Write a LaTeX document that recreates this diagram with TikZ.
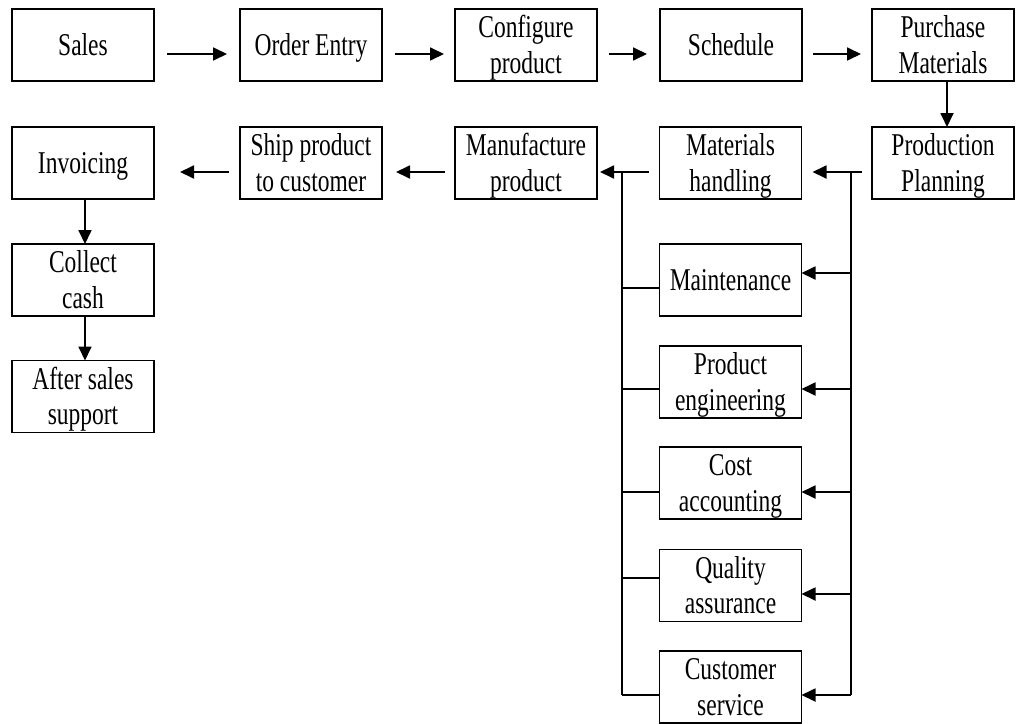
\documentclass[tikz,border=0pt]{standalone}
\usepackage{fontspec}
\setmainfont{Liberation Serif}
\usetikzlibrary{arrows.meta,calc}

% two-line labels, set tall and narrow, sitting slightly low in the box
\newcommand{\lbl}[1]{\raisebox{-3.5pt}[\height][\depth]{\scalebox{1}[1.35]{\fontsize{23.5}{26}\selectfont\begin{tabular}{@{}c@{}}#1\end{tabular}}}}

\tikzset{
  box/.style={draw=black, line width=1.8pt, minimum width=142pt, minimum height=72pt,
              inner sep=0pt, outer sep=0pt, fill=white},
  link/.style={line width=1.8pt},
  arr/.style={link, -{Triangle[length=14pt,width=13pt]}},
}

\begin{document}
\begin{tikzpicture}[x=1pt,y=-1pt]
  \useasboundingbox (0,0) rectangle (1017,723);
  \fill[white] (0,0) rectangle (1017,723);

  % top row
  \node[box] (sales)    at (83,45)    {\lbl{Sales}};
  \node[box] (order)    at (311,45)   {\lbl{Order Entry}};
  \node[box] (config)   at (526,45)   {\lbl{Configure\\product}};
  \node[box] (sched)    at (731,45)   {\lbl{Schedule}};
  \node[box] (purchase) at (943,45)   {\lbl{Purchase\\Materials}};

  % second row
  \node[box] (invoice)  at (83,163)   {\lbl{Invoicing}};
  \node[box] (ship)     at (311,163)  {\lbl{Ship product\\to customer}};
  \node[box] (manuf)    at (526,163)  {\lbl{Manufacture\\product}};
  \node[box] (mathand)  at (730.5,163){\lbl{Materials\\handling}};
  \node[box] (plan)     at (943,163)  {\lbl{Production\\Planning}};

  % after-sale column
  \node[box] (collect)  at (83,280)   {\lbl{Collect\\cash}};
  \node[box] (support)  at (83,396.5) {\lbl{After sales\\support}};

  % support functions column
  \node[box] (maint)    at (730.5,280)   {\lbl{Maintenance}};
  \node[box] (eng)      at (730.5,382)   {\lbl{Product\\engineering}};
  \node[box] (cost)     at (730.5,483)   {\lbl{Cost\\accounting}};
  \node[box] (quality)  at (730.5,585.5) {\lbl{Quality\\assurance}};
  \node[box] (service)  at (730.5,687)   {\lbl{Customer\\service}};

  % top row flow
  \draw[arr] ($(sales.east)+(13,9)$)  -- ($(order.west)+(-13,9)$);
  \draw[arr] ($(order.east)+(13,9)$)  -- ($(config.west)+(-11,9)$);
  \draw[arr] ($(config.east)+(12,9)$) -- ($(sched.west)+(-13,9)$);
  \draw[arr] ($(sched.east)+(11,9)$)  -- ($(purchase.west)+(-11,9)$);
  \draw[arr] ($(purchase.south)+(4,0)$) -- ($(plan.north)+(4,0)$);

  % second row flow
  \draw[arr] ($(plan.west)+(-10,9)$)    -- ($(mathand.east)+(11,9)$);
  \draw[arr] ($(mathand.west)+(-11,9)$) -- ($(manuf.east)+(3,9)$);
  \draw[arr] ($(manuf.west)+(-10,9)$)   -- ($(ship.east)+(14,9)$);
  \draw[arr] ($(ship.west)+(-11,9)$)    -- ($(invoice.east)+(26,9)$);

  % after-sale chain
  \draw[arr] ($(invoice.south)+(2,0)$) -- ($(collect.north)+(2,0)$);
  \draw[arr] ($(collect.south)+(2,0)$) -- ($(support.north)+(2,0)$);

  % distribution bus from production planning
  \coordinate (busR) at (851,172);
  \coordinate (r1) at (851,273);
  \coordinate (r2) at (851,389);
  \coordinate (r3) at (851,492);
  \coordinate (r4) at (851,594);
  \coordinate (r5) at (851,695);
  \draw[link] (busR) -- (r5);
  \draw[arr] (r1) -- (r1 -| maint.east);
  \draw[arr] (r2) -- (r2 -| eng.east);
  \draw[arr] (r3) -- (r3 -| cost.east);
  \draw[arr] (r4) -- (r4 -| quality.east);
  \draw[arr] (r5) -- (r5 -| service.east);

  % collecting bus into manufacture
  \coordinate (busL) at (622,172);
  \coordinate (l1) at (622,288);
  \coordinate (l2) at (622,389);
  \coordinate (l3) at (622,492);
  \coordinate (l4) at (622,578);
  \coordinate (l5) at (622,695);
  \draw[link] (busL) -- (l5);
  \draw[link] (l1) -- (l1 -| maint.west);
  \draw[link] (l2) -- (l2 -| eng.west);
  \draw[link] (l3) -- (l3 -| cost.west);
  \draw[link] (l4) -- (l4 -| quality.west);
  \draw[link] (l5) -- (l5 -| service.west);
\end{tikzpicture}
\end{document}
